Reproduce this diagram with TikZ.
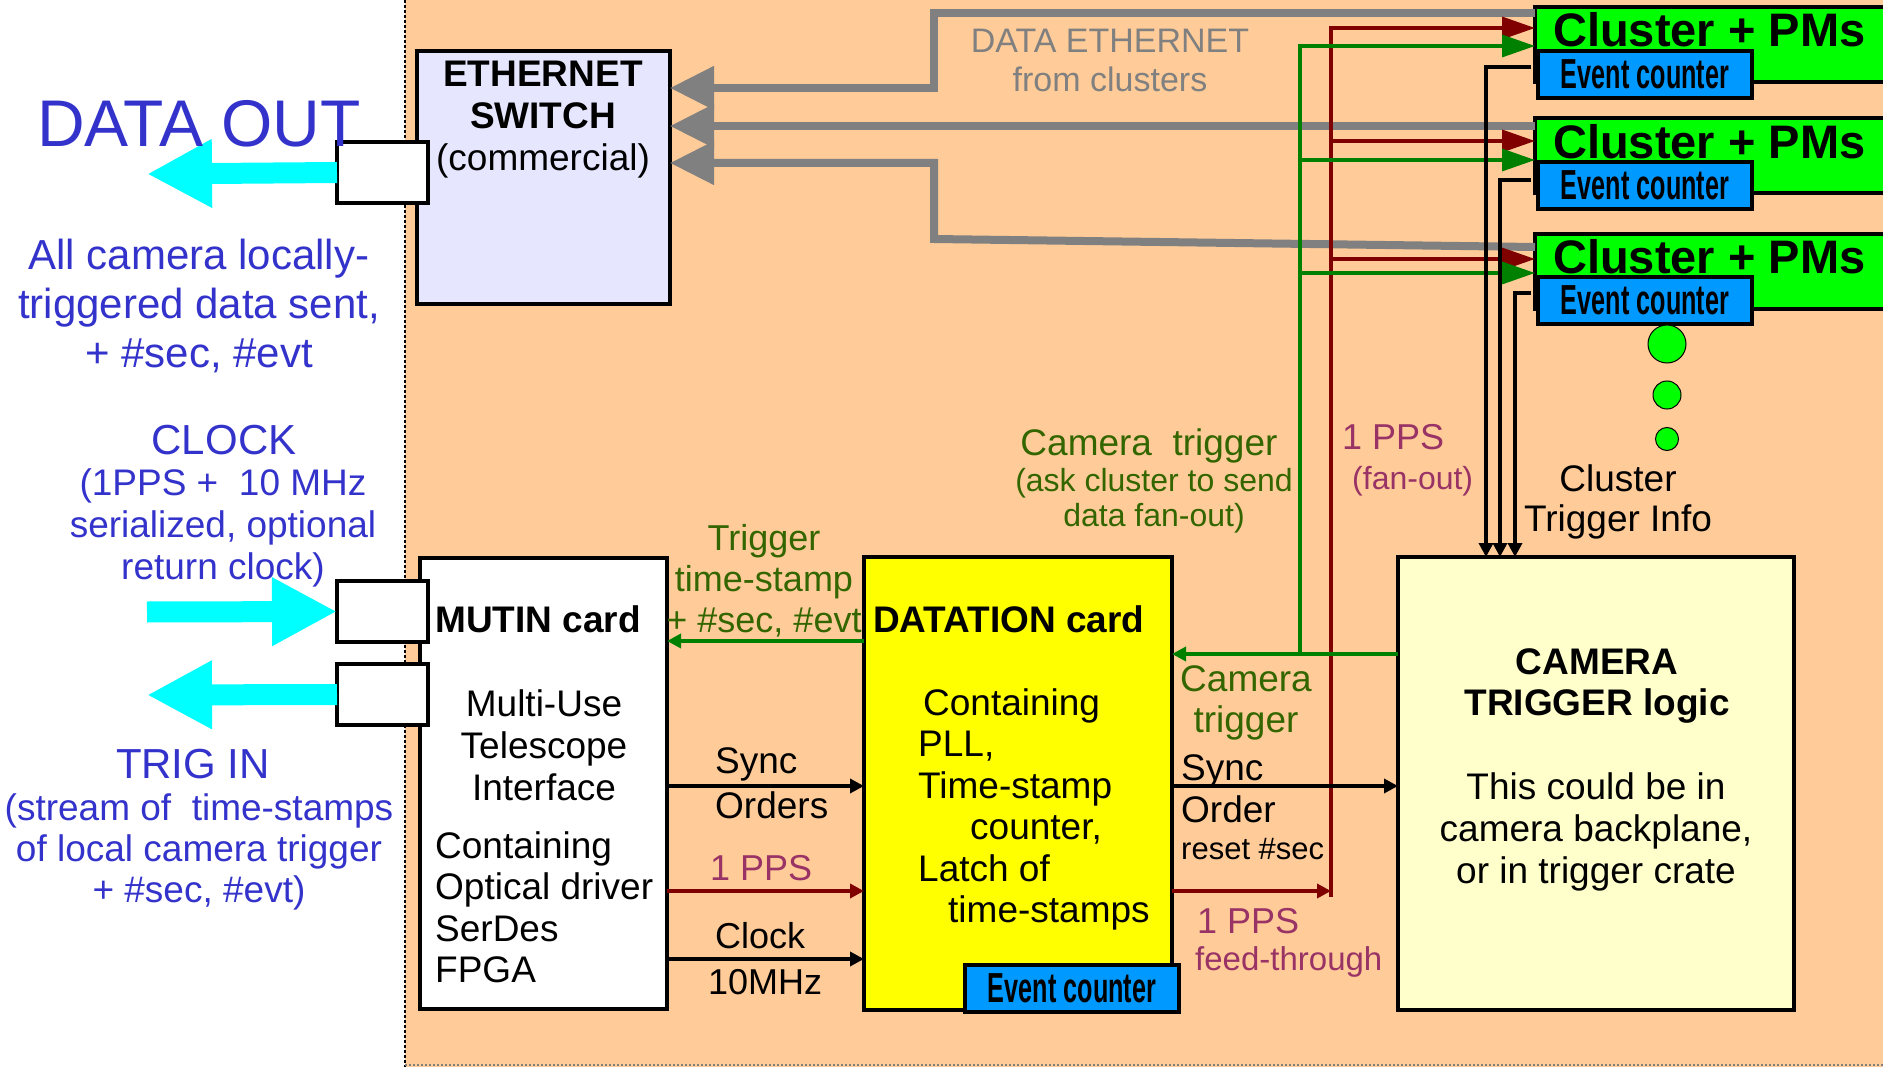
\documentclass[tikz,border=0pt]{standalone}
\usepackage{fontspec}
\setmainfont{Liberation Sans}
\newfontfamily\narrowfont[FakeStretch=0.6]{Liberation Sans}
\usetikzlibrary{arrows.meta}

\definecolor{bgorange}{HTML}{FFCC99}
\definecolor{swfill}{HTML}{E6E6FF}
\definecolor{trgfill}{HTML}{FFFFCC}
\definecolor{evblue}{HTML}{0099FF}
\definecolor{clgreen}{HTML}{00FF00}
\definecolor{linkcyan}{HTML}{00FFFF}
\definecolor{cardyellow}{HTML}{FFFF00}
\definecolor{txtblue}{HTML}{3333CC}
\definecolor{txtgreen}{HTML}{336600}
\definecolor{linegreen}{HTML}{008000}
\definecolor{linered}{HTML}{800000}
\definecolor{txtred}{HTML}{993366}
\definecolor{ethgray}{HTML}{808080}

\newcommand\fsz[2]{\fontsize{#1}{#2}\selectfont}

\begin{document}
\begin{tikzpicture}[x=1pt, y=-1pt,
    box/.style={draw, line width=4pt, inner sep=0pt, outer sep=0pt, anchor=north west},
    port/.style={box, fill=white, line width=3.5pt, minimum width=91pt, minimum height=61pt},
    cluster/.style={box, fill=clgreen, line width=3.5pt, minimum width=360pt, minimum height=75pt},
    evcount/.style={box, fill=evblue, line width=3.5pt, minimum width=214pt, minimum height=47pt,
      font=\narrowfont\bfseries\fsz{42}{42}},
    lbl/.style={inner sep=0pt, align=center, anchor=north},
    lbll/.style={inner sep=0pt, align=left, anchor=north west},
    eth/.style={ethgray, line width=8pt, -{Triangle[length=44pt,width=42pt]}},
    fan/.style={line width=3.5pt, -{Triangle[length=33pt,width=22pt]}},
    sig/.style={line width=3.5pt, -{Triangle[length=14pt,width=14pt]}},
    bigarrow/.style={linkcyan, line width=21pt, -{Triangle[length=65pt,width=64pt]}},
    greendot/.style={circle, draw, line width=1pt, fill=clgreen, inner sep=0pt}]
\useasboundingbox (0,0) rectangle (1883,1067);

% camera side
\fill[bgorange] (405,0) rectangle (1883,1067);
\draw[line width=2.5pt, dash pattern=on 3pt off 2pt] (405,0) -- (405,1067);
\draw[ethgray, line width=1.5pt, dash pattern=on 2pt off 2pt] (405,1065) -- (1883,1065);

% cards
\node[box, fill=swfill, minimum width=253pt, minimum height=253pt] (sw) at (417,51) {};
\node[box, fill=white, minimum width=247pt, minimum height=451pt] (mutin) at (420,558) {};
\node[box, fill=cardyellow, minimum width=308pt, minimum height=453pt] (dat) at (864,557) {};
\node[box, fill=trgfill, minimum width=396pt, minimum height=453pt] (ctl) at (1398,557) {};
\node[evcount] (dev) at (965,965) {Event counter};

% clusters
\node[cluster] (cl1) at (1535,7) {};
\node[cluster] (cl2) at (1535,118) {};
\node[cluster] (cl3) at (1535,234) {};
\node[anchor=base west, inner sep=0pt, font=\bfseries\fsz{47}{47}] (cl1t) at (1553,47) {Cluster + PMs};
\node[anchor=base west, inner sep=0pt, font=\bfseries\fsz{47}{47}] (cl2t) at (1553,159) {Cluster + PMs};
\node[anchor=base west, inner sep=0pt, font=\bfseries\fsz{47}{47}] (cl3t) at (1553,274) {Cluster + PMs};
\node[evcount] (ev1) at (1538,51) {Event counter};
\node[evcount] (ev2) at (1538,162) {Event counter};
\node[evcount] (ev3) at (1538,277) {Event counter};
\node[greendot, minimum size=38pt] (dot1) at (1667,344) {};
\node[greendot, minimum size=28pt] (dot2) at (1667,395) {};
\node[greendot, minimum size=23pt] (dot3) at (1667,439) {};

% data ethernet
\draw[eth] (cl1.west |- 0,13) -| (934,88) -- (sw.east |- 0,88);
\draw[eth] (cl2.west |- 0,126) -- (sw.east |- 0,126);
\draw[eth] (cl3.west |- 0,247) -- (934,239) -- (934,163) -- (sw.east |- 0,163);

% 1 PPS fan-out
\coordinate (ppsbus) at (1331,897);
\draw[sig, linered] (dat.east |- 0,891) -- (ppsbus |- 0,891);
\draw[fan, linered] (ppsbus) |- (cl1.west |- 0,28);
\draw[fan, linered] (ppsbus |- 0,141) -- (cl2.west |- 0,141);
\draw[fan, linered] (ppsbus |- 0,259) -- (cl3.west |- 0,259);

% camera trigger fan-out
\coordinate (trgbus) at (1300,654);
\draw[sig, linegreen] (ctl.west |- trgbus) -- (dat.east |- trgbus);
\draw[fan, linegreen] (trgbus) |- (cl1.west |- 0,46);
\draw[fan, linegreen] (trgbus |- 0,160) -- (cl2.west |- 0,160);
\draw[fan, linegreen] (trgbus |- 0,273) -- (cl3.west |- 0,273);

% cluster trigger info
\draw[sig, shorten <=7pt] (ev1.west |- 0,67) -| (ctl.north -| 1486,0);
\draw[sig, shorten <=7pt] (ev2.west |- 0,180) -| (ctl.north -| 1500,0);
\draw[sig, shorten <=7pt] (ev3.west |- 0,293) -| (ctl.north -| 1515,0);

% MUTIN <-> DATATION
\draw[sig, linegreen] (dat.west |- 0,641) -- (mutin.east |- 0,641);
\draw[sig] (mutin.east |- 0,786) -- (dat.west |- 0,786);
\draw[sig, linered] (mutin.east |- 0,891) -- (dat.west |- 0,891);
\draw[sig] (mutin.east |- 0,959) -- (dat.west |- 0,959);
\draw[sig] (dat.east |- 0,786) -- (ctl.west |- 0,786);

% links to outside
\node[port] (dout) at (337,142) {};
\node[port] (clk) at (337,581) {};
\node[port] (trg) at (337,664) {};
\coordinate (doutip) at (147,174);
\coordinate (clksrc) at (147,612);
\coordinate (trgtip) at (147,695);
\draw[bigarrow] (dout.west) -- (doutip);
\draw[bigarrow] (clksrc) -- (clk.west);
\draw[bigarrow] (trg.west) -- (trgtip);

% left texts
\node[anchor=base, inner sep=0pt, text=txtblue, font=\fsz{66}{66}] (dataout) at (199,147) {DATA OUT};
\node[lbl, text=txtblue, font=\fsz{42}{49}] (dataoutnote) at (199,239)
  {All camera locally-\\triggered data sent,\\+ \#sec, \#evt};
\node[anchor=base, inner sep=0pt, text=txtblue, font=\fsz{42}{42}] (clock) at (224,454) {CLOCK};
\node[lbl, text=txtblue, font=\fsz{37}{42}] (clocknote) at (223,468)
  {(1PPS + \ 10 MHz\\serialized, optional\\return clock)};
\node[anchor=base, inner sep=0pt, text=txtblue, font=\fsz{42}{42}] (trigin) at (193,778) {TRIG IN};
\node[lbl, text=txtblue, font=\fsz{37}{41}] (triginnote) at (199,793)
  {(stream of \ time-stamps\\of local camera trigger\\+ \#sec, \#evt)};

% card texts
\node[lbl, font=\fsz{37}{42}] (swtitle) at (543,61)
  {\textbf{ETHERNET}\\\textbf{SWITCH}\\(commercial)};
\node[lbl, text=ethgray, font=\fsz{34}{39}] (ethlabel) at (1110,29) {DATA ETHERNET\\from clusters};
\node[anchor=base west, inner sep=0pt, font=\bfseries\fsz{37}{37}] (mutintitle) at (435,632) {MUTIN card};
\node[lbl, font=\fsz{37}{42}] (mutinname) at (544,689) {Multi-Use\\Telescope\\Interface};
\node[lbll, font=\fsz{37}{41.5}] (mutinparts) at (435,831)
  {Containing\\Optical driver\\SerDes\\FPGA};
\node[anchor=base west, inner sep=0pt, font=\bfseries\fsz{37}{37}] (dattitle) at (873,632) {DATATION card};
\node[lbll, font=\fsz{37}{41.5}] (datparts) at (918,688)
  {\hspace*{5pt}Containing\\PLL,\\Time-stamp\\\hspace*{52pt}counter,\\Latch of\\\hspace*{30pt}time-stamps};
\node[lbl, font=\bfseries\fsz{37}{41}] (ctltitle) at (1597,648) {CAMERA\\TRIGGER logic};
\node[lbl, font=\fsz{37}{42}] (ctlnote) at (1596,772)
  {This could be in\\camera backplane,\\or in trigger crate};
\node[lbl, font=\fsz{37}{40}] (clinfo) at (1618,464) {Cluster\\Trigger Info};

% signal labels
\node[anchor=base, inner sep=0pt, text=txtgreen, font=\fsz{37}{37}] (camtrig) at (1149,455) {Camera \ trigger};
\node[lbl, text=txtgreen, font=\fsz{32}{35}] (camtrignote) at (1154,468) {(ask cluster to send\\data fan-out)};
\node[anchor=base west, inner sep=0pt, text=txtred, font=\fsz{36}{36}] (ppsfan) at (1342,449) {1 PPS};
\node[anchor=base west, inner sep=0pt, text=txtred, font=\fsz{32}{32}] (ppsfannote) at (1352,489) {(fan-out)};
\node[lbl, text=txtgreen, font=\fsz{36}{41}] (tstamp) at (764,524) {Trigger\\time-stamp\\+ \#sec, \#evt};
\node[lbll, font=\fsz{37}{45}] (syncorders) at (715,747) {Sync\\Orders};
\node[anchor=base west, inner sep=0pt, text=txtred, font=\fsz{36}{36}] (ppsin) at (710,880) {1 PPS};
\node[lbll, font=\fsz{36}{46}] (clockin) at (708,922) {\hspace*{7pt}Clock\\10MHz};
\node[lbl, text=txtgreen, font=\fsz{37}{41}] (camtrig2) at (1246,665) {Camera\\trigger};
\node[lbll, font=\fsz{37}{42}] (syncorder) at (1181,754) {Sync\\Order};
\node[anchor=base west, inner sep=0pt, font=\fsz{31}{31}] (resetsec) at (1181,859) {reset \#sec};
\node[anchor=base west, inner sep=0pt, text=txtred, font=\fsz{36}{36}] (ppsthru) at (1197,933) {1 PPS};
\node[anchor=base west, inner sep=0pt, text=txtred, font=\fsz{33}{33}] (ppsthrunote) at (1195,970) {feed-through};
\end{tikzpicture}
\end{document}
